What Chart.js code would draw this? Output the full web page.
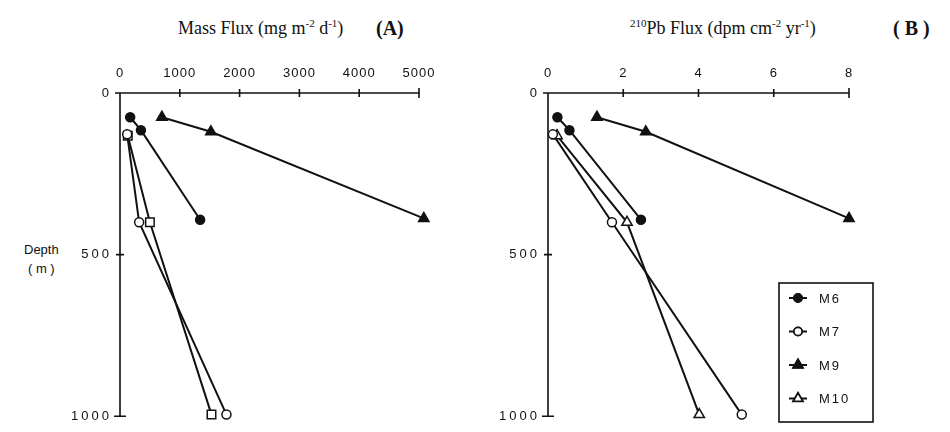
<!DOCTYPE html>
<html>
<head>
<meta charset="utf-8">
<script src="https://cdn.jsdelivr.net/npm/chart.js@4/dist/chart.umd.min.js"></script>
<style>
  body { margin: 0; background: #fff; width: 950px; height: 432px; position: relative; overflow: hidden; }
  canvas { position: absolute; top: 0; }
  #chartA { left: 0; }
  #chartB { left: 470px; }
  .title { position: absolute; top: 16px; font-family: "Liberation Serif", serif; font-size: 18px; color: #111; white-space: nowrap; line-height: 24px; }
  .title sup { font-size: 11px; vertical-align: 0; position: relative; top: -7px; }
  .title b { font-weight: bold; font-size: 20px; }
  .depth { position: absolute; left: 24px; top: 240px; font-family: "Liberation Sans", sans-serif; font-size: 13px; line-height: 19px; text-align: center; color: #111; }
</style>
</head>
<body>
<div class="title" style="left:178px">Mass Flux (mg m<sup>-2</sup> d<sup>-1</sup>)</div>
<div class="title" style="left:376px"><b>(A)</b></div>
<div class="title" style="left:630px"><sup>210</sup>Pb Flux (dpm cm<sup>-2</sup> yr<sup>-1</sup>)</div>
<div class="title" style="left:893px"><b>( B )</b></div>
<div class="depth">Depth<br>( m )</div>
<canvas id="chartA" width="470" height="432"></canvas>
<canvas id="chartB" width="480" height="432"></canvas>
<script>
// sediment trap stations: depth (m), mass flux (mg m-2 d-1), 210Pb flux (dpm cm-2 yr-1)
const stations = ['M6', 'M7', 'M9', 'M10'];

const m6Depth = [75, 115, 392];
const m6Mass = [170, 350, 1340];
const m6Pb = [0.25, 0.57, 2.47];

const m7Depth = [128, 400, 995];
const m7Mass = [120, 320, 1780];
const m7Pb = [0.13, 1.7, 5.15];

const m9Depth = [75, 120, 388];
const m9Mass = [700, 1520, 5080];
const m9Pb = [1.3, 2.6, 8.0];

const m10Depth = [132, 400, 995];
const m10Mass = [130, 500, 1530];
const m10Pb = [0.24, 2.1, 4.02];

const depthTicks = [0, 500, 1000];
const massTicks = [0, 1000, 2000, 3000, 4000, 5000];
const pbTicks = [0, 2, 4, 6, 8];

const ink = '#111';

function points(xs, ys) {
  return xs.map((x, i) => ({ x: x, y: ys[i] }));
}

function series(label, xs, ys, style, filled, radius) {
  return {
    label: label,
    data: points(xs, ys),
    showLine: true,
    clip: false,
    borderColor: ink,
    borderWidth: 2,
    pointStyle: style,
    pointRadius: radius,
    pointBackgroundColor: filled ? ink : '#fff',
    pointBorderColor: ink,
    pointBorderWidth: 1.5
  };
}

// axis line with ticks that cross it, like a hand-drafted figure
const crossAxes = {
  id: 'crossAxes',
  beforeDatasetsDraw(chart) {
    const { ctx, chartArea: a, scales: { x, y } } = chart;
    ctx.save();
    ctx.strokeStyle = ink;
    ctx.lineWidth = 1.6;
    ctx.beginPath();
    ctx.moveTo(a.left - 5, a.top);
    ctx.lineTo(a.right, a.top);
    ctx.moveTo(a.left, a.top);
    ctx.lineTo(a.left, a.bottom);
    x.ticks.forEach(t => {
      if (t.value === 0) return;
      const px = x.getPixelForValue(t.value);
      ctx.moveTo(px, a.top - 4);
      ctx.lineTo(px, a.top + 4);
    });
    const xEnd = x.getPixelForValue(x.max);
    ctx.moveTo(xEnd, a.top - 5);
    ctx.lineTo(xEnd, a.top + 5);
    y.ticks.forEach(t => {
      if (t.value === 0) return;
      const py = y.getPixelForValue(t.value);
      ctx.moveTo(a.left - 4, py);
      ctx.lineTo(a.left + 4, py);
    });
    const yEnd = y.getPixelForValue(y.max);
    ctx.moveTo(a.left - 6, yEnd);
    ctx.lineTo(a.left + 6, yEnd);
    ctx.stroke();
    ctx.restore();
  }
};

// spread tick digits apart
const spacedTicks = {
  id: 'spacedTicks',
  afterLayout(chart, args, opts) {
    ['x', 'y'].forEach(id => {
      const scale = chart.scales[id];
      if (scale._spaced) return;
      const drawLabels = scale.drawLabels.bind(scale);
      const gap = opts[id] || '0px';
      scale.drawLabels = area => {
        chart.ctx.save();
        chart.ctx.letterSpacing = gap;
        drawLabels(area);
        chart.ctx.restore();
      };
      scale._spaced = true;
    });
  }
};

// boxed key in the lower right of panel B
const boxKey = {
  id: 'boxKey',
  afterDatasetsDraw(chart, args, opts) {
    if (!opts.show) return;
    const { ctx } = chart;
    const { left, top, width, height, rowTop, rowGap } = opts;
    ctx.save();
    ctx.strokeStyle = ink;
    ctx.lineWidth = 1.6;
    ctx.strokeRect(left, top, width, height);
    ctx.font = '13px "Liberation Sans", sans-serif';
    ctx.letterSpacing = '2px';
    ctx.textBaseline = 'middle';
    ctx.fillStyle = ink;
    chart.data.datasets.forEach((ds, i) => {
      const cy = rowTop + i * rowGap;
      const cx = left + 19;
      ctx.lineWidth = 2;
      ctx.beginPath();
      ctx.moveTo(cx - 9, cy);
      ctx.lineTo(cx + 9, cy);
      ctx.stroke();
      Chart.helpers.drawPoint(ctx, {
        pointStyle: ds.pointStyle,
        radius: ds.pointRadius - 0.5,
        borderWidth: ds.pointBorderWidth
      }, cx, cy);
      ctx.fillStyle = ds.pointBackgroundColor;
      ctx.strokeStyle = ink;
      ctx.lineWidth = ds.pointBorderWidth;
      ctx.fill();
      ctx.stroke();
      ctx.fillStyle = ink;
      ctx.fillText(ds.label, left + 40, cy + 1);
    });
    ctx.restore();
  }
};

const tickFont = { family: '"Liberation Sans", sans-serif', size: 13 };

function panel(canvasId, datasets, xMax, xTicks, yWidth, padRight, key) {
  return new Chart(document.getElementById(canvasId), {
    type: 'scatter',
    data: { datasets: datasets },
    options: {
      responsive: false,
      animation: false,
      layout: { padding: { left: 0, top: 0, right: padRight, bottom: 10 } },
      plugins: {
        legend: { display: false },
        tooltip: { enabled: false },
        spacedTicks: { x: '1px', y: '3px' },
        boxKey: key
      },
      scales: {
        x: {
          type: 'linear',
          position: 'top',
          min: 0,
          max: xMax,
          afterBuildTicks: s => { s.ticks = xTicks.map(v => ({ value: v })); },
          ticks: {
            padding: 12,
            color: ink,
            font: tickFont,
            callback: v => String(v)
          },
          grid: { display: false, drawTicks: false },
          border: { display: false },
          afterFit: s => { s.height = 93; }
        },
        y: {
          type: 'linear',
          reverse: true,
          min: 0,
          max: 1000,
          afterBuildTicks: s => { s.ticks = depthTicks.map(v => ({ value: v })); },
          ticks: {
            padding: 8,
            color: ink,
            font: tickFont,
            callback: v => String(v)
          },
          grid: { display: false, drawTicks: false },
          border: { display: false },
          afterFit: s => { s.width = yWidth; }
        }
      }
    },
    plugins: [crossAxes, spacedTicks, boxKey]
  });
}

panel('chartA', [
  series(stations[0], m6Mass, m6Depth, 'circle', true, 4.5),
  series(stations[1], m7Mass, m7Depth, 'circle', false, 4.5),
  series(stations[2], m9Mass, m9Depth, 'triangle', true, 6),
  series(stations[3], m10Mass, m10Depth, 'rect', false, 6)
], 5000, massTicks, 120, 51, { show: false });

panel('chartB', [
  series(stations[0], m6Pb, m6Depth, 'circle', true, 4.5),
  series(stations[1], m7Pb, m7Depth, 'circle', false, 4.5),
  series(stations[2], m9Pb, m9Depth, 'triangle', true, 6),
  series(stations[3], m10Pb, m10Depth, 'triangle', false, 6)
], 8, pbTicks, 78, 101, {
  show: true, left: 309, top: 283, width: 94, height: 139, rowTop: 298, rowGap: 33.5
});
</script>
</body>
</html>
